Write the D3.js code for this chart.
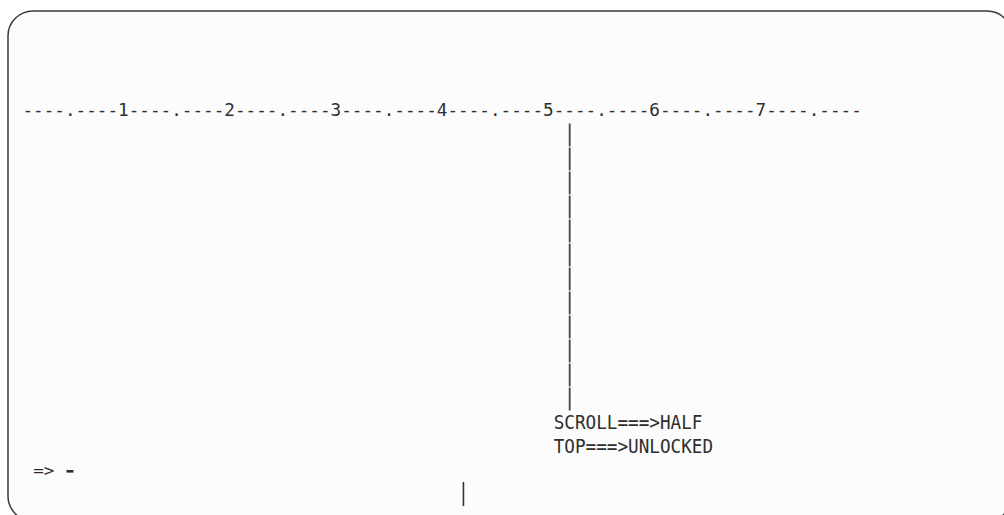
<!DOCTYPE html>
<html>
<head>
<meta charset="utf-8">
<script src="https://cdn.jsdelivr.net/npm/d3@7"></script>
<style>
  html, body { margin: 0; padding: 0; background: #ffffff; }
  svg { display: block; }
</style>
</head>
<body>
<svg id="chart" width="1004" height="515"></svg>
<script>
// ---- data ----
const rulerLabels = ["1", "2", "3", "4", "5", "6", "7"];
const rulerUnit = "----.----";
const rulerRow = 4;
const boundaryColumn = 51;          // column of the vertical boundary line
const boundaryRows = [5, 16];       // first and last row of the boundary line
const statusLines = [
  { row: 17, col: 50, text: "SCROLL===>HALF" },
  { row: 18, col: 50, text: "TOP===>UNLOCKED" }
];
const commandLine = { row: 19, col: 1, text: "=>" };
const commandMark = { row: 19, col: 4, text: "-" };
const cursorCell = { row: 20, col: 41 };

// ---- scales ----
const cw = 10.625, rh = 24;
const colX = d3.scaleLinear().domain([0, 1]).range([22.5, 22.5 + cw]);
const rowY = d3.scaleLinear().domain([0, 1]).range([3, 3 + rh]);

const svg = d3.select("#chart");
const ink = "#2e2e2e";

// frame
svg.append("rect")
  .attr("x", 8).attr("y", 11)
  .attr("width", 1004).attr("height", 510)
  .attr("rx", 25).attr("ry", 25)
  .attr("fill", "#fcfcfc")
  .attr("stroke", "#3a3a3a")
  .attr("stroke-width", 1.5);

// build ruler string from labels
const ruler = rulerLabels.map(l => rulerUnit + l).join("") + rulerUnit;

function drawLine(str, row, col, size, dy) {
  svg.append("text")
    .datum({ str, row, col })
    .attr("x", d => colX(d.col))
    .attr("y", d => rowY(d.row) + dy)
    .attr("font-family", "'DejaVu Sans Mono', monospace")
    .attr("font-size", size)
    .attr("textLength", d => colX(d.col + d.str.length) - colX(d.col))
    .attr("lengthAdjust", "spacingAndGlyphs")
    .attr("fill", ink)
    .attr("xml:space", "preserve")
    .text(d => d.str);
}

drawLine(ruler, rulerRow, 0, 17.65, 17);

// boundary line made of per-row segments
const segRows = d3.range(boundaryRows[0], boundaryRows[1] + 1);
svg.append("g")
  .selectAll("line")
  .data(segRows)
  .join("line")
  .attr("x1", colX(boundaryColumn + 0.5))
  .attr("x2", colX(boundaryColumn + 0.5))
  .attr("y1", r => rowY(r) + 0.5)
  .attr("y2", r => rowY(r + 1) - 0.5)
  .attr("stroke", "#444")
  .attr("stroke-width", 1.8);

statusLines.forEach(s => drawLine(s.text, s.row, s.col, 19.5, 18));
drawLine(commandLine.text, commandLine.row, commandLine.col, 16.5, 17);

// command mark (thick dash)
svg.append("rect")
  .attr("x", colX(commandMark.col) + 1.5)
  .attr("y", rowY(commandMark.row) + 11)
  .attr("width", 7)
  .attr("height", 2.6)
  .attr("fill", ink);

// cursor bar
svg.append("line")
  .attr("x1", colX(cursorCell.col + 0.5))
  .attr("x2", colX(cursorCell.col + 0.5))
  .attr("y1", rowY(cursorCell.row) - 1)
  .attr("y2", rowY(cursorCell.row + 1) - 1)
  .attr("stroke", "#333")
  .attr("stroke-width", 1.6);
</script>
</body>
</html>
